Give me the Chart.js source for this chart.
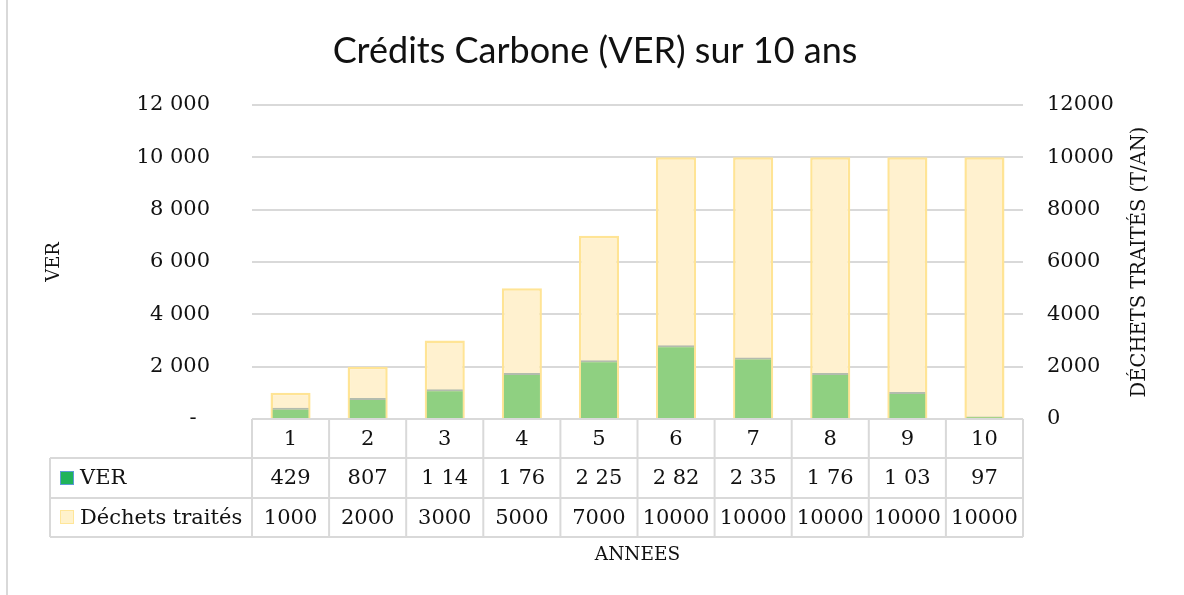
<!DOCTYPE html>
<html>
<head>
<meta charset="utf-8">
<script src="https://cdn.jsdelivr.net/npm/chart.js@4/dist/chart.umd.min.js"></script>
<style>
  html, body { margin: 0; padding: 0; background: #ffffff; }
  #wrap { width: 1184px; height: 595px; position: relative; }
</style>
</head>
<body>
<div id="wrap"><canvas id="chart"></canvas></div>
<script>
// Data
const years = ["1", "2", "3", "4", "5", "6", "7", "8", "9", "10"];
const verValues = [429, 807, 1140, 1760, 2250, 2820, 2350, 1760, 1030, 97];
const wasteValues = [1000, 2000, 3000, 5000, 7000, 10000, 10000, 10000, 10000, 10000];
// table text as shown (cells are cut off in the original)
const verTableLabels = ["429", "807", "1 14", "1 76", "2 25", "2 82", "2 35", "1 76", "1 03", "97"];
const leftTickLabels = ["-\u00a0\u00a0", "2 000", "4 000", "6 000", "8 000", "10 000", "12 000"];
const rightTickLabels = ["0", "2000", "4000", "6000", "8000", "10000", "12000"];

const serif = "'DejaVu Serif', 'Liberation Serif', serif";
const gridColor = "#d9d9d9";
const textColor = "#111111";

// Title, axis titles, data table
const extrasPlugin = {
  id: "extras",
  afterDraw(chart) {
    const ctx = chart.ctx;
    const area = chart.chartArea;
    const colW = (area.right - area.left) / years.length;
    const rows = [area.bottom, 458, 498, 537];
    const tableLeft = 50;

    ctx.save();
    // frame line on the left
    ctx.strokeStyle = gridColor;
    ctx.lineWidth = 2;
    ctx.beginPath();
    ctx.moveTo(7, 0);
    ctx.lineTo(7, 595);
    ctx.stroke();

    // title
    ctx.fillStyle = textColor;
    ctx.font = "36px Lato, 'Open Sans', sans-serif";
    ctx.textAlign = "center";
    ctx.textBaseline = "middle";
    ctx.fillText("Crédits Carbone (VER) sur 10 ans", 595, 51);

    // axis titles
    ctx.font = "18px " + serif;
    ctx.save();
    ctx.translate(54, (area.top + area.bottom) / 2);
    ctx.rotate(-Math.PI / 2);
    ctx.fillText("VER", 0, 0);
    ctx.restore();
    ctx.save();
    ctx.font = "19.5px " + serif;
    ctx.translate(1140, (area.top + area.bottom) / 2);
    ctx.rotate(-Math.PI / 2);
    ctx.fillText("DÉCHETS TRAITÉS (T/AN)", 0, 0);
    ctx.restore();
    ctx.font = "18.5px " + serif;
    ctx.fillText("ANNEES", (area.left + area.right) / 2, 555);

    // table grid
    ctx.strokeStyle = gridColor;
    ctx.lineWidth = 2;
    ctx.beginPath();
    ctx.moveTo(area.left, rows[0]);
    ctx.lineTo(area.right, rows[0]);
    for (let r = 1; r < rows.length; r++) {
      ctx.moveTo(tableLeft, rows[r]);
      ctx.lineTo(area.right, rows[r]);
    }
    ctx.moveTo(tableLeft, rows[1]);
    ctx.lineTo(tableLeft, rows[3]);
    for (let i = 0; i <= years.length; i++) {
      const x = area.left + i * colW;
      ctx.moveTo(x, rows[0]);
      ctx.lineTo(x, rows[3]);
    }
    ctx.stroke();

    // table text
    ctx.fillStyle = textColor;
    ctx.font = "21px " + serif;
    ctx.textAlign = "center";
    ctx.textBaseline = "middle";
    const xs = chart.scales.x;
    years.forEach((y, i) => {
      const cx = xs.getPixelForValue(i);
      ctx.fillText(y, cx, (rows[0] + rows[1]) / 2 + 1);
      ctx.fillText(verTableLabels[i], cx, (rows[1] + rows[2]) / 2 + 1);
      ctx.fillText(String(wasteValues[i]), cx, (rows[2] + rows[3]) / 2 + 1);
    });

    // legend keys inside the table
    ctx.textAlign = "left";
    ctx.fillStyle = "#1fb35a";
    ctx.fillRect(60, 471, 14, 14);
    ctx.strokeStyle = "#5b9bd5";
    ctx.lineWidth = 1;
    ctx.strokeRect(60.5, 471.5, 13, 13);
    ctx.fillStyle = "#fff2cc";
    ctx.fillRect(60, 510, 14, 14);
    ctx.strokeStyle = "#ffe699";
    ctx.strokeRect(60.5, 510.5, 13, 13);
    ctx.fillStyle = textColor;
    ctx.fillText("VER", 80, (rows[1] + rows[2]) / 2 + 1);
    ctx.fillText("Déchets traités", 80, (rows[2] + rows[3]) / 2 + 1);
    ctx.restore();
  }
};

new Chart(document.getElementById("chart"), {
  type: "bar",
  data: {
    labels: years,
    datasets: [
      {
        label: "VER",
        data: verValues,
        yAxisID: "y",
        backgroundColor: "#8fd081",
        borderColor: "#b3bcae",
        borderWidth: { top: 2, left: 0, right: 0, bottom: 0 },
        borderSkipped: false,
        grouped: false,
        categoryPercentage: 1,
        barPercentage: 0.47
      },
      {
        label: "Déchets traités",
        data: wasteValues,
        yAxisID: "y1",
        backgroundColor: "#fff1cf",
        borderColor: "#ffe495",
        borderWidth: 2.5,
        borderSkipped: false,
        grouped: false,
        categoryPercentage: 1,
        barPercentage: 0.52
      }
    ]
  },
  options: {
    responsive: true,
    maintainAspectRatio: false,
    animation: false,
    layout: { padding: { top: 105, left: 0, right: 0, bottom: 0 } },
    plugins: {
      legend: { display: false },
      title: { display: false },
      tooltip: { enabled: false }
    },
    scales: {
      x: {
        ticks: { display: false },
        grid: { display: false },
        border: { display: false },
        afterFit(scale) { scale.height = 176; }
      },
      y: {
        position: "left",
        min: 0,
        max: 12000,
        ticks: {
          stepSize: 2000,
          padding: 42,
          color: textColor,
          font: { family: serif, size: 21 },
          callback: (v, i) => leftTickLabels[i]
        },
        grid: { color: gridColor, lineWidth: 2, drawTicks: false },
        border: { display: false },
        afterFit(scale) { scale.width = 252; }
      },
      y1: {
        position: "right",
        min: 0,
        max: 12000,
        ticks: {
          stepSize: 2000,
          padding: 24,
          color: textColor,
          font: { family: serif, size: 21 },
          callback: (v, i) => rightTickLabels[i]
        },
        grid: { display: false, drawTicks: false },
        border: { display: false },
        afterFit(scale) { scale.width = 161; }
      }
    }
  },
  plugins: [extrasPlugin]
});
</script>
</body>
</html>
